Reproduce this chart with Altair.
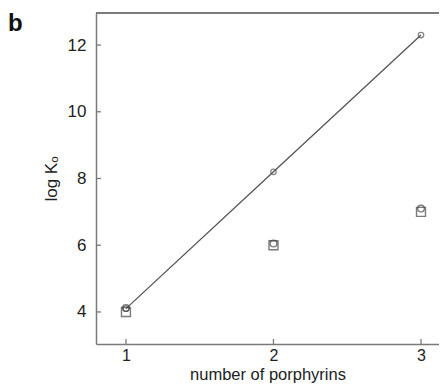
import altair as alt
import pandas as pd

# data
n_porph = [1, 2, 3]
logk_line = [4.1, 8.2, 12.3]
logk_square = [4.0, 6.0, 7.0]
logk_hex = [4.12, 6.05, 7.1]
x_ticks = [1, 2, 3]
y_ticks = [4, 6, 8, 10, 12]

W, H = 343, 331
FONT = "Liberation Sans"
AX = "#7a7a7a"

df_line = pd.DataFrame({"n": n_porph, "k": logk_line})
df_sq = pd.DataFrame({"n": n_porph, "k": logk_square})
df_hx = pd.DataFrame({"n": n_porph, "k": logk_hex})
df_xt = pd.DataFrame({"n": x_ticks})
df_yt = pd.DataFrame({"k": y_ticks})

xs = alt.Scale(domain=[0.797, 3.122], nice=False, zero=False)
ys = alt.Scale(domain=[3.04, 12.96], nice=False, zero=False)

xax = alt.Axis(values=x_ticks, format="d", tickSize=0, grid=False, domainColor=AX, domainWidth=1.5,
               labelFont=FONT, labelFontSize=16, labelColor="#222", labelPadding=3,
               title="number of porphyrins", titleFont=FONT, titleFontSize=16.5,
               titleFontWeight="normal", titleColor="#222",
               titleBaseline="alphabetic", titleY=35)
yax = alt.Axis(values=y_ticks, format="d", tickSize=0, grid=False, domainColor=AX, domainWidth=1.5,
               labelFont=FONT, labelFontSize=17, labelColor="#222", labelPadding=10,
               title="log Kₒ", titleFont=FONT, titleFontSize=17,
               titleFontWeight="normal", titleColor="#222", titlePadding=7)

base = alt.Chart(df_line)

line = base.mark_line(color="#555", strokeWidth=1.3).encode(
    x=alt.X("n:Q", scale=xs, axis=xax), y=alt.Y("k:Q", scale=ys, axis=yax))
circ = base.mark_point(shape="circle", size=30, filled=False, color="#555", strokeWidth=1.3).encode(
    x=alt.X("n:Q", scale=xs), y=alt.Y("k:Q", scale=ys))
sq = alt.Chart(df_sq).mark_point(shape="square", size=80, filled=False, color="#444", strokeWidth=1.4).encode(
    x=alt.X("n:Q", scale=xs), y=alt.Y("k:Q", scale=ys))
hx = alt.Chart(df_hx).mark_point(shape="circle", size=45, filled=False, color="#444", strokeWidth=1.4).encode(
    x=alt.X("n:Q", scale=xs), y=alt.Y("k:Q", scale=ys))

xt = alt.Chart(df_xt).mark_rule(color=AX, strokeWidth=1.3).encode(
    x=alt.X("n:Q", scale=xs), y=alt.value(H), y2=alt.value(H - 5))
yt = alt.Chart(df_yt).mark_rule(color=AX, strokeWidth=1.3).encode(
    y=alt.Y("k:Q", scale=ys), x=alt.value(0), x2=alt.value(5))
top = alt.Chart(df_xt).mark_rule(color=AX, strokeWidth=1.5).encode(
    y=alt.value(0), x=alt.value(0), x2=alt.value(W))
lab = alt.Chart(pd.DataFrame({"t": ["b"]})).mark_text(
    text="b", font=FONT, fontSize=24, fontWeight="bold", align="left", baseline="top", color="#111"
).encode(x=alt.value(-88), y=alt.value(-1))

chart = alt.layer(top, xt, yt, line, circ, sq, hx, lab).properties(
    width=W, height=H,
    autosize=alt.AutoSizeParams(type="none"),
    padding={"left": 88, "top": 5, "right": 0, "bottom": 39},
).configure_view(stroke=None)

chart.save("out.html", embed_options={"renderer": "svg", "actions": False})
